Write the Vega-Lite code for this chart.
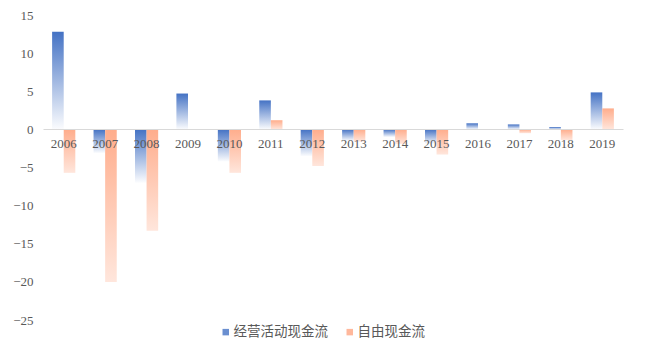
{
  "$schema": "https://vega.github.io/schema/vega-lite/v6.json",
  "width": 580,
  "height": 305,
  "autosize": {"type": "none"},
  "padding": {"left": 43, "top": 15, "right": 38, "bottom": 34},
  "background": "white",
  "data": {
    "values": [
      {"year": "2006", "series": "经营活动现金流", "value": 12.8},
      {"year": "2006", "series": "自由现金流", "value": -5.7},
      {"year": "2007", "series": "经营活动现金流", "value": -3.1},
      {"year": "2007", "series": "自由现金流", "value": -20.0},
      {"year": "2008", "series": "经营活动现金流", "value": -7.0},
      {"year": "2008", "series": "自由现金流", "value": -13.3},
      {"year": "2009", "series": "经营活动现金流", "value": 4.7},
      {"year": "2009", "series": "自由现金流", "value": 0.0},
      {"year": "2010", "series": "经营活动现金流", "value": -4.2},
      {"year": "2010", "series": "自由现金流", "value": -5.7},
      {"year": "2011", "series": "经营活动现金流", "value": 3.8},
      {"year": "2011", "series": "自由现金流", "value": 1.2},
      {"year": "2012", "series": "经营活动现金流", "value": -3.5},
      {"year": "2012", "series": "自由现金流", "value": -4.8},
      {"year": "2013", "series": "经营活动现金流", "value": -1.5},
      {"year": "2013", "series": "自由现金流", "value": -1.6},
      {"year": "2014", "series": "经营活动现金流", "value": -1.0},
      {"year": "2014", "series": "自由现金流", "value": -1.9},
      {"year": "2015", "series": "经营活动现金流", "value": -1.9},
      {"year": "2015", "series": "自由现金流", "value": -3.3},
      {"year": "2016", "series": "经营活动现金流", "value": 0.8},
      {"year": "2016", "series": "自由现金流", "value": 0.0},
      {"year": "2017", "series": "经营活动现金流", "value": 0.65},
      {"year": "2017", "series": "自由现金流", "value": -0.5},
      {"year": "2018", "series": "经营活动现金流", "value": 0.3},
      {"year": "2018", "series": "自由现金流", "value": -1.4},
      {"year": "2019", "series": "经营活动现金流", "value": 4.85},
      {"year": "2019", "series": "自由现金流", "value": 2.75}
    ]
  },
  "encoding": {
    "x": {
      "field": "year",
      "type": "nominal",
      "scale": {"paddingInner": 0.44, "paddingOuter": 0.22},
      "axis": {
        "title": null,
        "labelAngle": 0,
        "offset": -191,
        "ticks": false,
        "domainColor": "#d9d9d9",
        "domainWidth": 1,
        "labelFont": "Liberation Serif",
        "labelFontSize": 13,
        "labelColor": "#595959",
        "labelPadding": 8,
        "zindex": 1
      }
    },
    "xOffset": {"field": "series", "type": "nominal", "sort": ["经营活动现金流", "自由现金流"], "scale": {"paddingInner": 0, "paddingOuter": 0}},
    "y": {
      "field": "value",
      "type": "quantitative",
      "scale": {"domain": [-25, 15], "nice": false, "zero": true},
      "axis": {
        "title": null,
        "values": [-25, -20, -15, -10, -5, 0, 5, 10, 15],
        "grid": false,
        "domain": false,
        "ticks": false,
        "labelFont": "Liberation Serif",
        "labelFontSize": 13,
        "labelColor": "#595959",
        "labelPadding": 10
      }
    }
  },
  "layer": [
    {
      "mark": {
        "type": "bar",
        "fill": {"expr": "datum.series === '经营活动现金流' ? {gradient: 'linear', x1: 0, y1: 0, x2: 0, y2: 1, stops: [{offset: 0, color: '#4472c4'}, {offset: 1, color: '#fbfcfe'}]} : {gradient: 'linear', x1: 0, y1: 0, x2: 0, y2: 1, stops: [{offset: 0, color: '#ffad8c'}, {offset: 1, color: '#ffe6dc'}]}"}
      }
    },
    {
      "transform": [{"filter": "false"}],
      "mark": {"type": "bar"},
      "encoding": {
        "color": {
          "field": "series",
          "type": "nominal",
          "scale": {"domain": ["经营活动现金流", "自由现金流"], "range": ["#6a8fd0", "#ffb89c"]},
          "legend": {
            "title": null,
            "orient": "none",
            "legendX": 176,
            "legendY": 310,
            "direction": "horizontal",
            "symbolType": "square",
            "symbolSize": 42,
            "symbolStrokeWidth": 0,
            "labelFont": "Noto Sans CJK SC",
            "labelFontSize": 13.5,
            "labelColor": "#595959",
            "labelOffset": 1,
            "columnPadding": 15
          }
        }
      }
    }
  ],
  "config": {
    "view": {"stroke": null}
  }
}
